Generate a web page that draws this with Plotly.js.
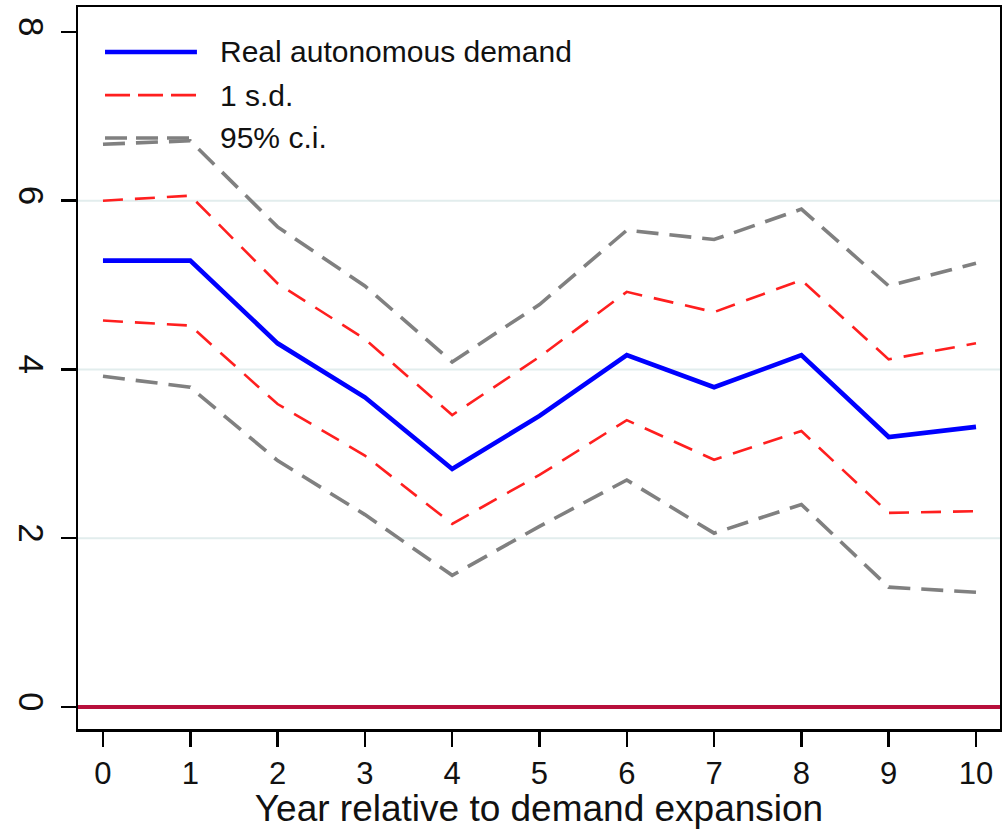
<!DOCTYPE html>
<html>
<head>
<meta charset="utf-8">
<script src="https://cdn.plot.ly/plotly-3.0.1.min.js"></script>
<style>html,body{margin:0;padding:0;background:#fff;}#chart{width:1002px;height:829px;}</style>
</head>
<body>
<div id="chart"></div>
<script>
const years = [0, 1, 2, 3, 4, 5, 6, 7, 8, 9, 10];
const realDemand = [5.29, 5.29, 4.31, 3.67, 2.82, 3.45, 4.17, 3.79, 4.17, 3.20, 3.32];
const sdUpper = [6.00, 6.06, 5.02, 4.36, 3.46, 4.15, 4.92, 4.68, 5.06, 4.12, 4.31];
const sdLower = [4.58, 4.52, 3.59, 2.98, 2.17, 2.75, 3.40, 2.93, 3.27, 2.30, 2.32];
const ciUpper = [6.67, 6.71, 5.69, 4.99, 4.09, 4.77, 5.65, 5.54, 5.90, 4.99, 5.26];
const ciLower = [3.92, 3.79, 2.92, 2.28, 1.56, 2.14, 2.69, 2.06, 2.40, 1.42, 1.36];
const yTicks = [0, 2, 4, 6, 8];
const gridVals = [2, 4, 6];
const legendLabels = ["Real autonomous demand", "1 s.d.", "95% c.i."];

const FONT = "Liberation Sans, Arial, sans-serif";
const blue = "#0000ff", red = "#ff1f1f", gray = "#808080";
const grayLine = {color: gray, width: 3.6, dash: "22px,11px"};
const redLine = {color: red, width: 2.6, dash: "20px,12px"};
const blueLine = {color: blue, width: 4.6};

const traces = [
  {x: years, y: ciUpper, mode: "lines", line: grayLine, name: legendLabels[2]},
  {x: years, y: ciLower, mode: "lines", line: grayLine, name: legendLabels[2]},
  {x: years, y: sdUpper, mode: "lines", line: redLine, name: legendLabels[1]},
  {x: years, y: sdLower, mode: "lines", line: redLine, name: legendLabels[1]},
  {x: years, y: realDemand, mode: "lines", line: blueLine, name: legendLabels[0]}
];

const shapes = gridVals.map(v => ({
  type: "line", xref: "paper", x0: 0, x1: 1, yref: "y", y0: v, y1: v,
  line: {color: "#e2eded", width: 2}, layer: "below"
}));
const legendStyles = [blueLine, {color: red, width: 2.6, dash: "25px,8px"}, {color: gray, width: 3.6, dash: "22px,9px"}];
const legendY = [0.9377, 0.878, 0.8186];
const annotations = [];
legendLabels.forEach((lab, i) => {
  shapes.push({type: "line", xref: "paper", yref: "paper", x0: 0.0293, x1: 0.129,
    y0: legendY[i], y1: legendY[i], line: legendStyles[i]});
  annotations.push({xref: "paper", yref: "paper", x: 0.152, y: legendY[i],
    xanchor: "left", yanchor: "middle", text: lab, showarrow: false,
    font: {family: FONT, size: 30, color: "#111"}});
});

const layout = {
  width: 1002, height: 829,
  margin: {l: 78, r: 2, t: 7, b: 100},
  paper_bgcolor: "#fff", plot_bgcolor: "#fff",
  showlegend: false,
  font: {family: FONT, color: "#111"},
  xaxis: {
    range: [-0.286, 10.275], tickvals: years, ticktext: years.map(String),
    showgrid: false, zeroline: false,
    showline: true, mirror: true, linecolor: "#000", linewidth: 2.5,
    ticks: "outside", ticklen: 15, tickwidth: 2.5, tickcolor: "#000",
    tickfont: {family: FONT, size: 31, color: "#111"},
    title: {text: "Year relative to demand expansion", font: {family: FONT, size: 37, color: "#111"}, standoff: 2}
  },
  yaxis: {
    range: [-0.261, 8.296], tickvals: yTicks, ticktext: yTicks.map(String),
    showgrid: false, zeroline: true, zerolinecolor: "#b8103c", zerolinewidth: 3.5,
    showline: true, mirror: true, linecolor: "#000", linewidth: 2.5,
    ticks: "outside", ticklen: 15, tickwidth: 2.5, tickcolor: "#000",
    tickangle: 90,
    tickfont: {family: FONT, size: 35, color: "#111"}
  },
  shapes: shapes,
  annotations: annotations
};

Plotly.newPlot("chart", traces, layout, {displayModeBar: false, staticPlot: true});
</script>
</body>
</html>
